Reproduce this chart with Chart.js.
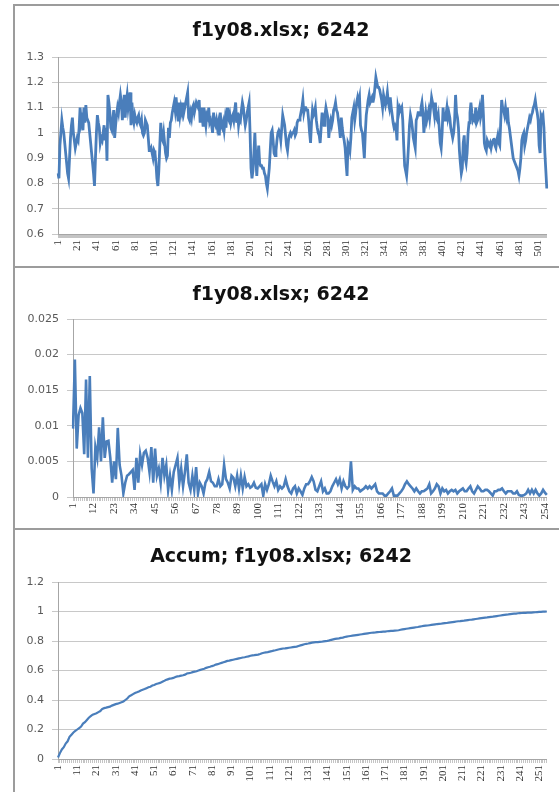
<!DOCTYPE html>
<html>
<head>
<meta charset="utf-8">
<script src="https://cdn.jsdelivr.net/npm/chart.js@4.4.0/dist/chart.umd.min.js"></script>
<style>
    html, body { margin: 0; padding: 0; background: #fff; width: 559px; height: 792px; overflow: hidden; }
    .panel { position: absolute; left: 13px; width: 580px; box-sizing: border-box;
             border-left: 2px solid #9c9c9c; border-top: 2px solid #9c9c9c; }
    canvas { position: absolute; }
</style>
</head>
<body>
<div class="panel" style="top:4px;height:264px"></div>
<div class="panel" style="top:266px;height:264px"></div>
<div class="panel" style="top:528px;height:270px"></div>
<canvas id="chart-1" width="548" height="262" style="left:14px;top:5px"></canvas>
<canvas id="chart-2" width="548" height="262" style="left:14px;top:267px"></canvas>
<canvas id="chart-3" width="548" height="263" style="left:14px;top:529px"></canvas>
<script>
// タイトル
const ratioTitle = 'f1y08.xlsx; 6242';
const spectrumTitle = 'f1y08.xlsx; 6242';
const accumTitle = 'Accum; f1y08.xlsx; 6242';

// 上段: 1..510
const ratioValues = [
    0.84, 0.82, 0.95, 1.00, 1.05, 1.02, 1.00, 0.96, 0.92, 0.88,
    0.84, 0.82, 0.90, 0.98, 1.03, 1.06, 1.00, 0.97, 0.94, 0.96,
    0.98, 0.97, 1.02, 1.10, 1.05, 1.08, 1.01, 1.10, 1.04, 1.11,
    1.06, 1.05, 1.04, 1.00, 0.96, 0.92, 0.88, 0.84, 0.79, 0.90,
    1.00, 1.07, 1.04, 1.02, 0.96, 0.98, 0.97, 1.00, 1.03, 0.97,
    1.02, 0.89, 1.15, 1.12, 1.08, 1.02, 1.01, 1.05, 1.09, 0.98,
    1.03, 1.07, 1.10, 1.08, 1.12, 1.15, 1.12, 1.05, 1.10, 1.15,
    1.06, 1.12, 1.15, 1.10, 1.13, 1.16, 1.03, 1.12, 1.06, 1.04,
    1.07, 1.05, 1.04, 1.06, 1.07, 1.04, 1.03, 1.05, 1.00, 0.99,
    1.00, 1.05, 1.04, 1.03, 0.98, 0.93, 0.93, 0.94, 0.92, 0.90,
    0.93, 0.92, 0.88, 0.82, 0.79, 0.85, 0.95, 1.04, 0.98, 0.97,
    1.00, 0.96, 0.92, 0.90, 0.91, 1.02, 0.98, 1.04, 1.05, 1.08,
    1.10, 1.12, 1.09, 1.14, 1.09, 1.05, 1.12, 1.07, 1.10, 1.08,
    1.12, 1.08, 1.10, 1.12, 1.14, 1.16, 1.06, 1.05, 1.08, 1.06,
    1.10, 1.11, 1.08, 1.10, 1.12, 1.11, 1.10, 1.13, 1.04, 1.10,
    1.07, 1.03, 1.10, 1.06, 1.03, 1.07, 1.06, 1.10, 1.04, 1.05,
    1.03, 1.00, 1.08, 1.04, 1.03, 1.05, 1.02, 1.04, 0.99, 1.08,
    1.03, 1.02, 1.04, 1.01, 1.05, 1.02, 1.10, 1.06, 1.05, 1.07,
    1.04, 1.06, 1.07, 1.05, 1.09, 1.12, 1.04, 1.08, 1.03, 1.06,
    1.05, 1.09, 1.12, 1.10, 1.06, 1.03, 1.05, 1.08, 1.10, 1.12,
    1.00, 0.86, 0.82, 0.85, 0.92, 1.00, 0.90, 0.83, 0.90, 0.95,
    0.88, 0.87, 0.87, 0.86, 0.86, 0.84, 0.83, 0.80, 0.78, 0.82,
    0.86, 0.93, 1.00, 1.01, 0.97, 0.92, 0.91, 0.93, 0.97, 1.00,
    1.01, 1.00, 0.97, 1.02, 1.07, 1.05, 1.03, 0.99, 0.95, 0.93,
    0.97, 0.99, 1.00, 0.99, 1.00, 1.00, 1.01, 0.99, 1.00, 1.04,
    1.05, 1.05, 1.06, 1.08, 1.10, 1.13, 1.08, 1.10, 1.10, 1.09,
    1.09, 1.05, 1.00, 0.96, 1.04, 1.09, 1.07, 1.08, 1.10, 1.05,
    1.02, 1.00, 0.99, 0.96, 1.02, 1.08, 1.05, 1.03, 1.07, 1.10,
    1.08, 1.06, 0.98, 1.03, 1.05, 1.03, 1.05, 1.09, 1.10, 1.12,
    1.09, 1.08, 1.05, 1.02, 0.98, 1.06, 1.02, 0.99, 0.97, 0.94,
    0.88, 0.83, 0.96, 0.95, 0.93, 0.98, 1.06, 1.08, 1.10, 1.05,
    1.08, 1.12, 1.14, 1.12, 1.14, 1.03, 1.01, 1.00, 0.95, 0.90,
    1.00, 1.07, 1.10, 1.13, 1.15, 1.12, 1.13, 1.14, 1.12, 1.14,
    1.18, 1.22, 1.20, 1.18, 1.18, 1.17, 1.15, 1.13, 1.10, 1.15,
    1.13, 1.11, 1.13, 1.16, 1.12, 1.10, 1.14, 1.10, 1.07, 1.04,
    1.02, 1.03, 1.02, 0.97, 1.10, 1.08, 1.10, 1.09, 1.10, 1.05,
    0.95, 0.87, 0.85, 0.83, 0.88, 0.95, 1.03, 1.07, 1.05, 1.02,
    0.98, 0.96, 0.94, 1.05, 1.06, 1.08, 1.08, 1.07, 1.10, 1.12,
    1.08, 1.00, 1.04, 1.08, 1.05, 1.07, 1.09, 1.06, 1.10, 1.14,
    1.12, 1.10, 1.07, 1.12, 1.06, 1.05, 1.07, 1.02, 0.96, 0.94,
    1.00, 1.10, 1.05, 1.05, 1.07, 1.10, 1.06, 1.08, 1.06, 1.02,
    1.00, 0.98, 1.00, 1.05, 1.15, 1.08, 1.06, 1.02, 0.93, 0.88,
    0.84, 0.86, 0.96, 0.99, 0.90, 0.88, 0.92, 1.00, 1.04, 1.08,
    1.12, 1.08, 1.05, 1.06, 1.05, 1.10, 1.04, 1.05, 1.08, 1.10,
    1.06, 1.08, 1.15, 1.07, 0.96, 0.94, 0.93, 0.97, 0.96, 0.95,
    0.96, 0.94, 0.96, 0.97, 0.98, 0.95, 0.94, 0.97, 0.99, 0.96,
    0.95, 1.04, 1.13, 1.10, 1.09, 1.07, 1.10, 1.07, 1.10, 1.04,
    1.02, 0.99, 0.96, 0.93, 0.90, 0.89, 0.88, 0.87, 0.86, 0.85,
    0.83, 0.86, 0.90, 0.97, 0.99, 1.00, 0.95, 0.97, 1.00, 1.02,
    1.04, 1.06, 1.05, 1.07, 1.08, 1.10, 1.11, 1.13, 1.10, 1.08,
    1.05, 0.95, 0.92, 1.07, 1.06, 1.07, 1.02, 0.92, 0.85, 0.78
];

// 中段: 1..255
const spectrumValues = [
    0.0096, 0.0193, 0.0068, 0.0115, 0.0125, 0.0118, 0.0060, 0.0165, 0.0055, 0.0170,
    0.0040, 0.0005, 0.0070, 0.0055, 0.0098, 0.0050, 0.0112, 0.0055, 0.0078, 0.0079,
    0.0055, 0.0020, 0.0050, 0.0025, 0.0097, 0.0045, 0.0030, 0.0005, 0.0020, 0.0030,
    0.0032, 0.0035, 0.0038, 0.0010, 0.0055, 0.0020, 0.0060, 0.0045, 0.0062, 0.0065,
    0.0055, 0.0035, 0.0070, 0.0020, 0.0068, 0.0030, 0.0040, 0.0020, 0.0055, 0.0030,
    0.0045, 0.0010, 0.0030, 0.0010, 0.0035, 0.0045, 0.0055, 0.0020, 0.0040, 0.0015,
    0.0035, 0.0060, 0.0020, 0.0010, 0.0030, 0.0010, 0.0042, 0.0005, 0.0020, 0.0015,
    0.0005, 0.0020, 0.0025, 0.0035, 0.0022, 0.0020, 0.0015, 0.0015, 0.0025, 0.0015,
    0.0018, 0.0045, 0.0025, 0.0020, 0.0012, 0.0030, 0.0027, 0.0015, 0.0030, 0.0012,
    0.0030, 0.0012, 0.0028, 0.0015, 0.0018, 0.0013, 0.0015, 0.0020, 0.0013, 0.0012,
    0.0015, 0.0018, 0.0002, 0.0018, 0.0010, 0.0018, 0.0030, 0.0022, 0.0015, 0.0022,
    0.0010, 0.0015, 0.0012, 0.0015, 0.0025, 0.0015, 0.0008, 0.0005, 0.0012, 0.0015,
    0.0005, 0.0012, 0.0008, 0.0003, 0.0012, 0.0018, 0.0018, 0.0022, 0.0028, 0.0022,
    0.0010, 0.0008, 0.0015, 0.0022, 0.0008, 0.0012, 0.0005, 0.0005, 0.0008, 0.0015,
    0.0020, 0.0025, 0.0018, 0.0025, 0.0012, 0.0022, 0.0015, 0.0012, 0.0015, 0.0050,
    0.0010, 0.0015, 0.0012, 0.0012, 0.0008, 0.0010, 0.0012, 0.0015, 0.0012, 0.0015,
    0.0012, 0.0015, 0.0018, 0.0008, 0.0005, 0.0005, 0.0005, 0.0002, 0.0002, 0.0005,
    0.0008, 0.0012, 0.0002, 0.0002, 0.0002, 0.0005, 0.0008, 0.0012, 0.0018, 0.0022,
    0.0018, 0.0015, 0.0012, 0.0008, 0.0012, 0.0008, 0.0005, 0.0008, 0.0008, 0.0010,
    0.0012, 0.0018, 0.0005, 0.0008, 0.0012, 0.0018, 0.0015, 0.0005, 0.0012, 0.0008,
    0.0010, 0.0005, 0.0008, 0.0010, 0.0008, 0.0010, 0.0005, 0.0008, 0.0010, 0.0012,
    0.0008, 0.0008, 0.0012, 0.0015, 0.0008, 0.0005, 0.0010, 0.0015, 0.0012, 0.0008,
    0.0008, 0.0010, 0.0010, 0.0008, 0.0005, 0.0002, 0.0008, 0.0008, 0.0010, 0.0010,
    0.0012, 0.0008, 0.0005, 0.0008, 0.0008, 0.0008, 0.0005, 0.0005, 0.0008, 0.0003,
    0.0002, 0.0002, 0.0003, 0.0005, 0.0010, 0.0005, 0.0010, 0.0005, 0.0010, 0.0005,
    0.0002, 0.0005, 0.0010, 0.0006, 0.0003
];

// 下段: 1..255
const accumValues = [
    0.010, 0.040, 0.065, 0.080, 0.105, 0.120, 0.150, 0.165, 0.180, 0.190,
    0.200, 0.210, 0.220, 0.240, 0.250, 0.265, 0.280, 0.290, 0.300, 0.305,
    0.310, 0.318, 0.325, 0.340, 0.345, 0.348, 0.352, 0.355, 0.362, 0.367,
    0.372, 0.375, 0.380, 0.385, 0.390, 0.400, 0.410, 0.425, 0.432, 0.440,
    0.447, 0.452, 0.458, 0.465, 0.470, 0.474, 0.480, 0.486, 0.490, 0.498,
    0.502, 0.508, 0.512, 0.516, 0.522, 0.528, 0.535, 0.540, 0.545, 0.547,
    0.550, 0.556, 0.560, 0.562, 0.565, 0.568, 0.572, 0.580, 0.582, 0.585,
    0.589, 0.592, 0.595, 0.600, 0.604, 0.608, 0.612, 0.618, 0.622, 0.625,
    0.630, 0.634, 0.640, 0.643, 0.648, 0.652, 0.656, 0.660, 0.665, 0.667,
    0.670, 0.673, 0.676, 0.679, 0.682, 0.685, 0.688, 0.690, 0.693, 0.696,
    0.700, 0.703, 0.704, 0.706, 0.708, 0.712, 0.717, 0.720, 0.723, 0.725,
    0.728, 0.731, 0.735, 0.737, 0.741, 0.744, 0.747, 0.749, 0.750, 0.752,
    0.754, 0.756, 0.758, 0.760, 0.762, 0.766, 0.770, 0.774, 0.778, 0.781,
    0.783, 0.786, 0.789, 0.791, 0.792, 0.793, 0.794, 0.795, 0.797, 0.799,
    0.801, 0.804, 0.808, 0.811, 0.814, 0.816, 0.818, 0.821, 0.823, 0.827,
    0.830, 0.832, 0.834, 0.836, 0.838, 0.840, 0.842, 0.844, 0.846, 0.848,
    0.850, 0.852, 0.854, 0.856, 0.857, 0.858, 0.860, 0.861, 0.862, 0.863,
    0.864, 0.866, 0.867, 0.868, 0.869, 0.870, 0.871, 0.873, 0.876, 0.879,
    0.881, 0.883, 0.885, 0.887, 0.889, 0.891, 0.893, 0.895, 0.898, 0.900,
    0.902, 0.904, 0.905, 0.907, 0.909, 0.911, 0.913, 0.915, 0.916, 0.917,
    0.919, 0.921, 0.922, 0.924, 0.926, 0.928, 0.930, 0.932, 0.934, 0.935,
    0.937, 0.938, 0.940, 0.942, 0.944, 0.945, 0.947, 0.949, 0.951, 0.953,
    0.955, 0.957, 0.959, 0.960, 0.962, 0.964, 0.965, 0.967, 0.969, 0.971,
    0.973, 0.975, 0.977, 0.979, 0.980, 0.982, 0.984, 0.985, 0.986, 0.988,
    0.989, 0.990, 0.991, 0.991, 0.992, 0.993, 0.993, 0.994, 0.995, 0.996,
    0.997, 0.998, 0.999, 0.999, 1.000
];

// カテゴリ (1, 2, 3, ...)
const ratioLabels = ratioValues.map((v, i) => String(i + 1));
const spectrumLabels = spectrumValues.map((v, i) => String(i + 1));
const accumLabels = accumValues.map((v, i) => String(i + 1));

// y軸の目盛り [min, max, step]
const ratioYTicks = [0.6, 1.3, 0.1];
const spectrumYTicks = [0, 0.025, 0.005];
const accumYTicks = [0, 1.2, 0.2];

function drawPanel(graphID, title, labels, values, yTicks, labelEvery, box) {
    const data = {
        labels: labels,
        datasets: [{
            data: values,
            borderColor: '#4a7ebb',
            borderWidth: box.lineWidth,
            pointRadius: 0,
            tension: 0,
            fill: false
        }]
    };

    const options = {
        responsive: false,
        animation: false,
        layout: { padding: { left: 0, right: 14, top: 0, bottom: 0 } },
        plugins: {
            legend: { display: false },
            tooltip: { enabled: false },
            title: {
                display: true,
                text: title,
                color: '#111',
                font: { family: 'DejaVu Sans', size: 19, weight: 'bold', lineHeight: 1.2 },
                padding: { top: box.titleTop, bottom: box.titleBottom }
            }
        },
        scales: {
            x: {
                grid: { drawOnChartArea: false, drawTicks: true, tickLength: 4, color: '#c4c4c4', lineWidth: 1 },
                border: { color: '#a6a6a6', width: 1 },
                ticks: {
                    autoSkip: false,
                    maxRotation: 90,
                    minRotation: 90,
                    padding: 2,
                    color: '#333',
                    font: { family: 'Liberation Serif', size: 11 },
                    callback: function (value, index) {
                        // 一定間隔でだけラベルを出す
                        return index % labelEvery === 0 ? this.getLabelForValue(value) : '';
                    }
                },
                afterFit: function (scale) { scale.height = box.xHeight; }
            },
            y: {
                min: yTicks[0],
                max: yTicks[1],
                grid: { color: '#c8c8c8', lineWidth: 1, tickLength: 6 },
                border: { color: '#a6a6a6', width: 1 },
                ticks: {
                    stepSize: yTicks[2],
                    padding: 8,
                    color: '#595959',
                    font: { family: 'DejaVu Sans', size: 11 },
                    callback: function (value) {
                        return String(parseFloat(value.toFixed(4)));
                    }
                },
                afterFit: function (scale) { scale.width = box.yWidth; }
            }
        }
    };

    const ctx = document.getElementById('chart-' + graphID).getContext('2d');
    return new Chart(ctx, { type: 'line', data: data, options: options });
}

drawPanel(1, ratioTitle, ratioLabels, ratioValues, ratioYTicks, 20,
    { lineWidth: 2.8, titleTop: 14.6, titleBottom: 14.6, xHeight: 33, yWidth: 44 });
drawPanel(2, spectrumTitle, spectrumLabels, spectrumValues, spectrumYTicks, 11,
    { lineWidth: 2.6, titleTop: 16.6, titleBottom: 12.6, xHeight: 32, yWidth: 59 });
drawPanel(3, accumTitle, accumLabels, accumValues, accumYTicks, 10,
    { lineWidth: 2.2, titleTop: 16.6, titleBottom: 13.6, xHeight: 33, yWidth: 44 });
</script>
</body>
</html>
